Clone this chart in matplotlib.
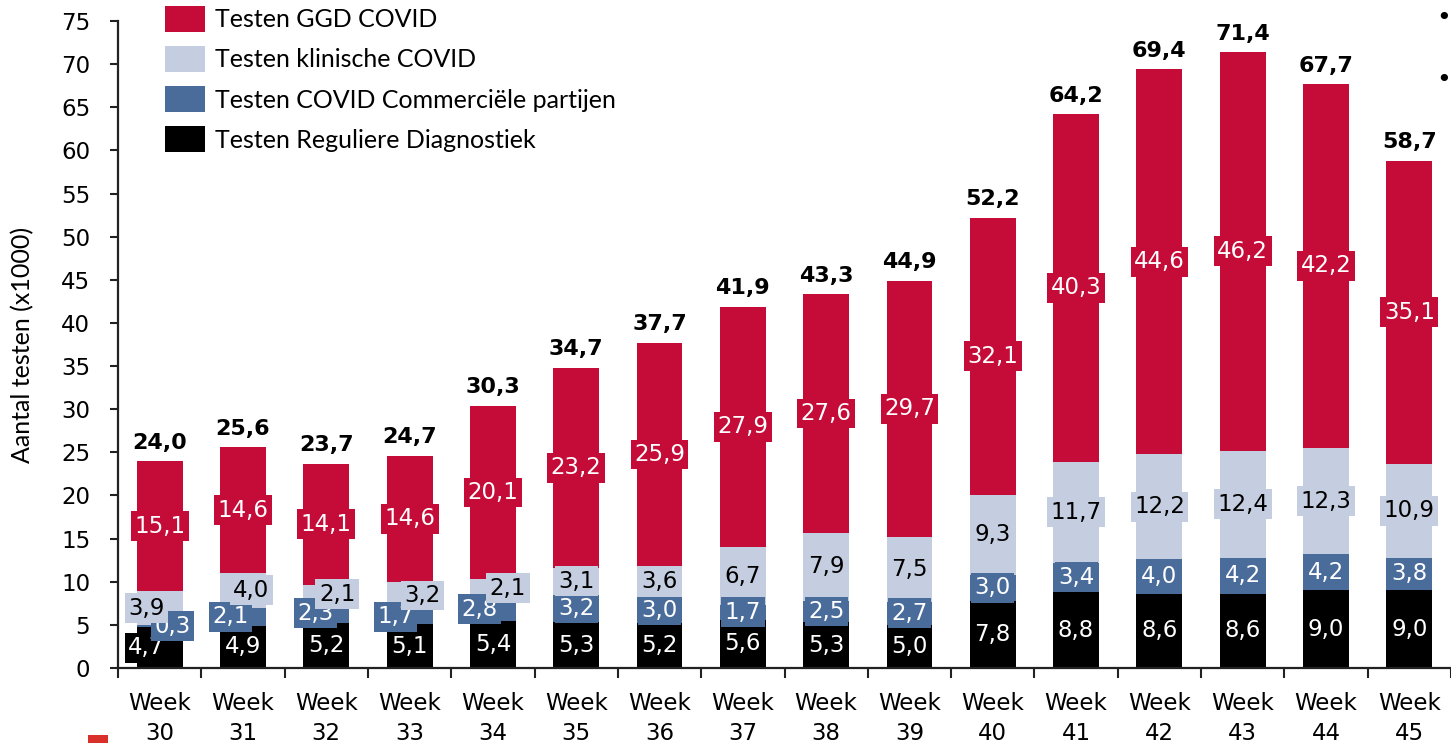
import matplotlib
matplotlib.use("Agg")
import matplotlib.pyplot as plt
import numpy as np
from matplotlib.patches import Patch, Rectangle

weeks = ["30", "31", "32", "33", "34", "35", "36", "37", "38", "39", "40", "41", "42", "43", "44", "45"]
regulier = [4.7, 4.9, 5.2, 5.1, 5.4, 5.3, 5.2, 5.6, 5.3, 5.0, 7.8, 8.8, 8.6, 8.6, 9.0, 9.0]
commercieel = [0.3, 2.1, 2.3, 1.7, 2.8, 3.2, 3.0, 1.7, 2.5, 2.7, 3.0, 3.4, 4.0, 4.2, 4.2, 3.8]
klinisch = [3.9, 4.0, 2.1, 3.2, 2.1, 3.1, 3.6, 6.7, 7.9, 7.5, 9.3, 11.7, 12.2, 12.4, 12.3, 10.9]
ggd = [15.1, 14.6, 14.1, 14.6, 20.1, 23.2, 25.9, 27.9, 27.6, 29.7, 32.1, 40.3, 44.6, 46.2, 42.2, 35.1]
totalen = [24.0, 25.6, 23.7, 24.7, 30.3, 34.7, 37.7, 41.9, 43.3, 44.9, 52.2, 64.2, 69.4, 71.4, 67.7, 58.7]

SERIES = [
    ("Testen Reguliere Diagnostiek", regulier, "#000000", "white"),
    ("Testen COVID Commerciële partijen", commercieel, "#4A6C9B", "white"),
    ("Testen klinische COVID", klinisch, "#C5CEE0", "black"),
    ("Testen GGD COVID", ggd, "#C50C38", "white"),
]

# horizontal nudges of the small data labels in the first weeks (x units)
LABEL_SHIFT = {
    (0, 0): -0.16, (1, 0): 0.15, (2, 0): -0.16,
    (1, 1): -0.15, (2, 1): 0.10,
    (1, 2): -0.13, (2, 2): 0.13,
    (1, 3): -0.17, (2, 3): 0.16,
    (1, 4): -0.16, (2, 4): 0.18,
}

BODY = "DejaVu Sans"
SOFT = ["Lato", "DejaVu Sans"]

fig = plt.figure(figsize=(14.51, 7.43), dpi=100)
ax = fig.add_axes([118 / 1451, 75 / 743, 1 - 118 / 1451, (668 - 21) / 743])

x = np.arange(len(weeks))
bottom = np.zeros(len(weeks))
for s_idx, (name, vals, color, txt_color) in enumerate(SERIES):
    vals = np.array(vals)
    ax.bar(x, vals, 0.55, bottom=bottom, color=color, label=name, zorder=2)
    for i, v in enumerate(vals):
        xs = x[i] + LABEL_SHIFT.get((s_idx, i), 0.0)
        ys = bottom[i] + v / 2
        ax.text(xs, ys, f"{v:.1f}".replace(".", ","), ha="center", va="center",
                fontsize=16.5, family=BODY, color=txt_color, zorder=4,
                bbox=dict(boxstyle="square,pad=0.15", facecolor=color, edgecolor="none"))
    bottom = bottom + vals

for i, t in enumerate(totalen):
    ax.annotate(f"{t:.1f}".replace(".", ","), (x[i], bottom[i]), xytext=(0, 6),
                textcoords="offset points", ha="center", va="bottom",
                fontsize=16, fontweight="bold", family=BODY, color="black")

ax.set_xlim(-0.5, len(weeks) - 0.5)
ax.set_ylim(0, 75)
ax.set_yticks(np.arange(0, 76, 5))
ax.set_xticks(x)
ax.set_xticklabels([f"Week\n{w}" for w in weeks], fontsize=16.5, family=BODY, linespacing=1.4)
ax.set_xticks(np.arange(-0.5, len(weeks), 1.0), minor=True)
ax.tick_params(axis="x", which="major", length=0, pad=17)
ax.tick_params(axis="x", which="minor", length=7, width=1.5, direction="out", color="#222222")
ax.tick_params(axis="y", length=6, width=1.5, pad=14, labelsize=16.5, color="#222222")
for lab in ax.get_yticklabels():
    lab.set_family(BODY)

for side in ("top", "right"):
    ax.spines[side].set_visible(False)
for side in ("left", "bottom"):
    ax.spines[side].set_linewidth(1.6)
    ax.spines[side].set_color("#222222")

ax.set_ylabel("Aantal testen (x1000)", fontsize=18, family=SOFT)
ax.yaxis.set_label_coords(-0.063, 0.5)

handles = [Patch(facecolor=c, edgecolor="none", label=n) for n, _, c, _ in SERIES[::-1]]
leg = fig.legend(handles=handles, loc="upper left", bbox_to_anchor=(165 / 1451, 1 - 6 / 743),
                 frameon=False, borderpad=0, borderaxespad=0, handlelength=1.6, handleheight=1.2,
                 handletextpad=0.4, labelspacing=0.58, prop={"family": SOFT, "size": 18})

# slide remnants at the edges
fig.patches.append(Rectangle((88 / 1451, 0), 20 / 1451, 8 / 743, transform=fig.transFigure,
                             facecolor="#D9302C", edgecolor="none"))
fig.text(1436 / 1451, 1 - 18 / 743, "•", fontsize=18, va="center", ha="left", color="black")
fig.text(1436 / 1451, 1 - 80 / 743, "•", fontsize=18, va="center", ha="left", color="black")

fig.savefig("out.png", dpi=100)
